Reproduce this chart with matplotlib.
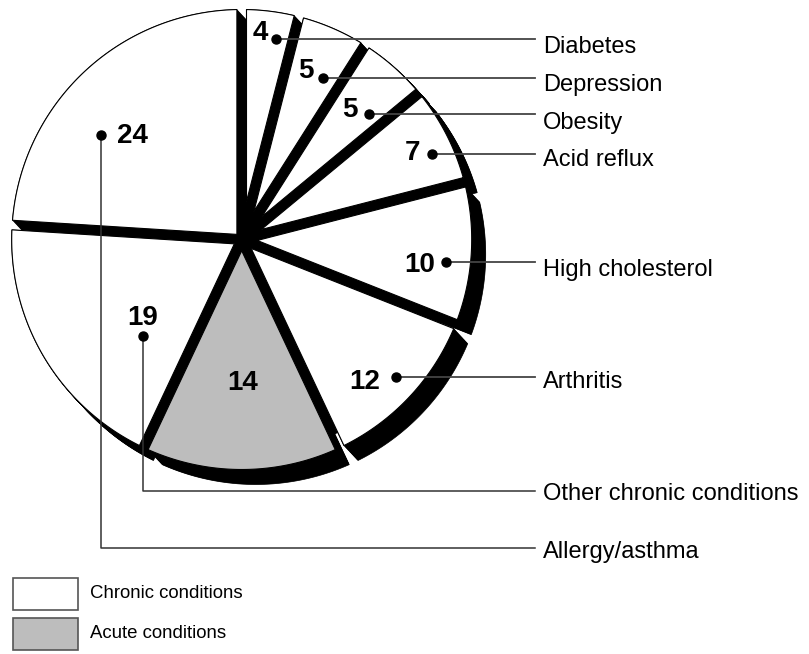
import numpy as np
import matplotlib
matplotlib.use('Agg')
import matplotlib.pyplot as plt
from matplotlib.patches import Polygon, Rectangle, Circle

plt.rcParams['font.family'] = ['Liberation Sans', 'DejaVu Sans']

# data: share of conditions, clockwise from 12 o'clock
conditions = ['Diabetes', 'Depression', 'Obesity', 'Acid reflux', 'High cholesterol',
              'Arthritis', 'Acute', 'Other chronic conditions', 'Allergy/asthma']
shares = [4, 5, 5, 7, 10, 12, 14, 19, 24]
kinds = ['chronic', 'chronic', 'chronic', 'chronic', 'chronic',
         'chronic', 'acute', 'chronic', 'chronic']
legend_labels = {'chronic': 'Chronic conditions', 'acute': 'Acute conditions'}

# layout (pixels, y down)
center = (241.7, 239.5)
radius = 230.0
gap = 4.8
depth = np.array([14.0, 15.0])
fill = {'chronic': 'white', 'acute': '#bdbdbd'}

num_xy = [(260, 40), (305.5, 78), (350, 117), (412.5, 160), (420, 272),
          (365, 389), (243, 390), (142.5, 325), (132, 143)]
dot_xy = [(276, 39), (323, 78), (369, 114), (432, 154), (446, 262),
          (396, 377), None, (143, 336), (101, 135)]
line_y = [39, 78, 114, 154, 262, 377, None, 491, 548]
label_base = [53, 91, 129, 166, 276, 388, None, 500, 558]
line_end = 535
label_x = 543

fig = plt.figure(figsize=(8.09, 6.54), dpi=100)
ax = fig.add_axes([0, 0, 1, 1])
ax.set_xlim(0, 809)
ax.set_ylim(654, 0)
ax.axis('off')


def slice_points(a0, a1):
    # a0 > a1, degrees, counterclockwise from +x
    h = np.radians(a0 - a1) / 2
    b = np.radians(a0 + a1) / 2
    ar = gap / np.sin(h)
    apex = [center[0] + ar * np.cos(b), center[1] - ar * np.sin(b)]
    dl = np.arcsin(gap / radius)
    t = np.linspace(np.radians(a0) - dl, np.radians(a1) + dl, 120)
    arc = np.column_stack([center[0] + radius * np.cos(t), center[1] - radius * np.sin(t)])
    return np.vstack([apex, arc])


# black core so the gaps between slices read as solid bands
ax.add_patch(Circle(center, radius - 14, fc='black', ec='none', zorder=1))

total = sum(shares)
cum = np.concatenate([[0], np.cumsum(shares)]) / total * 360
for i, v in enumerate(shares):
    a0 = 90 - cum[i]
    a1 = 90 - cum[i + 1]
    pts = slice_points(a0, a1)
    for s in np.linspace(0, 1, 24):
        ax.add_patch(Polygon(pts + s * depth, closed=True, fc='black', ec='black',
                             lw=0.5, zorder=1))
    ax.add_patch(Polygon(pts, closed=True, fc=fill[kinds[i]], ec='black', lw=0.8,
                         joinstyle='miter', zorder=3))

for i, name in enumerate(conditions):
    ax.text(num_xy[i][0], num_xy[i][1], str(shares[i]), fontsize=20, fontweight='bold',
            ha='center', va='baseline', zorder=6)
    if dot_xy[i] is None:
        continue
    dx, dy = dot_xy[i]
    if line_y[i] == dy:
        ax.plot([dx, line_end], [dy, dy], color='#444444', lw=1.3, zorder=5)
    else:
        ax.plot([dx, dx, line_end], [dy, line_y[i], line_y[i]], color='#333333',
                lw=1.1, zorder=5)
    ax.plot(dx, dy, 'o', color='black', ms=6.5, zorder=6)
    ax.text(label_x, label_base[i], name, fontsize=17, ha='left', va='baseline', zorder=6)

# legend
for j, k in enumerate(['chronic', 'acute']):
    y0 = 578 + j * 40
    ax.add_patch(Rectangle((13, y0), 65, 32, fc=fill[k], ec='#555555', lw=1.2, zorder=3))
    ax.text(90, y0 + 16, legend_labels[k], fontsize=13.4, ha='left', va='center')

fig.savefig('out.png', dpi=100)
